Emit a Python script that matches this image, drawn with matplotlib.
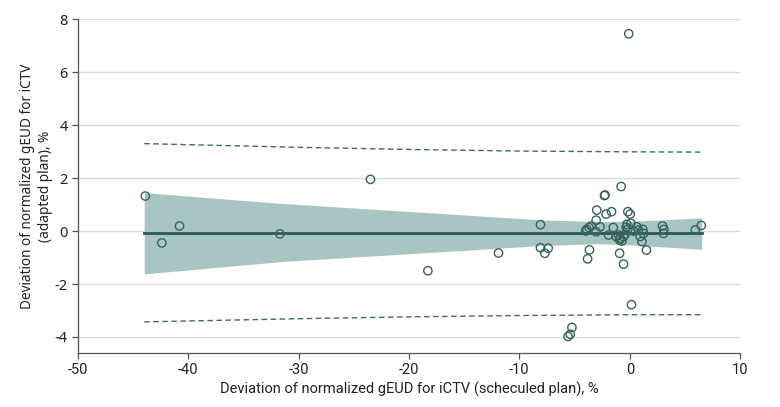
import matplotlib
matplotlib.use("Agg")
import matplotlib.pyplot as plt
import numpy as np

plt.rcParams["axes.unicode_minus"] = False

# --- data
sched = [-0.1, -43.9, -40.8, -42.4, -31.7, -23.5, -18.3, -11.9, -8.1, -8.1,
         -7.4, -7.7, -5.6, -5.4, -5.25, 0.15, -0.79, -2.3, -2.25, -3.0,
         -2.15, -1.66, -0.18, 0.03, -3.05, -3.5, -3.7, -3.9, -4.0, -2.7,
         -3.05, -1.5, -0.27, -0.33, -0.2, 0.09, 0.63, 0.79, 0.33, 1.18,
         1.24, 0.94, 1.09, -1.93, -1.24, -1.03, -0.88, -0.73, -0.93, -0.57,
         -0.42, 1.5, -3.66, -3.83, -0.93, -0.57, 2.96, 3.08, 3.05, 5.92, 6.47]
adapted = [7.45, 1.32, 0.19, -0.45, -0.11, 1.95, -1.5, -0.83, 0.24, -0.63,
           -0.65, -0.84, -3.98, -3.9, -3.64, -2.78, 1.68, 1.34, 1.36, 0.79,
           0.64, 0.73, 0.73, 0.64, 0.41, 0.19, 0.13, 0.06, 0.0, 0.16,
           -0.03, 0.13, 0.25, 0.14, 0.06, 0.29, 0.16, 0.04, 0.0, 0.06,
           -0.09, -0.21, -0.4, -0.15, -0.21, -0.15, -0.27, -0.38, -0.34, -0.21,
           -0.12, -0.72, -0.71, -1.05, -0.84, -1.25, 0.19, 0.06, -0.09, 0.04, 0.21]

# fitted line and bands
fit_x = [-44, 6.5]
fit_y = [-0.08, -0.08]
band_x = [-44, -31.5, -17, -8, -3, 0, 3, 6.5]
band_hi = [1.45, 1.04, 0.66, 0.42, 0.36, 0.37, 0.42, 0.5]
band_lo = [-1.62, -1.15, -0.78, -0.55, -0.48, -0.52, -0.6, -0.69]
pred_x = [-44, -30, -20, -10, 0, 6.5]
pred_hi = [3.3, 3.16, 3.08, 3.02, 2.99, 2.98]
pred_lo = [-3.43, -3.31, -3.24, -3.19, -3.16, -3.16]

dark = "#2b5a56"
fill = "#a9c5c3"

fig = plt.figure(figsize=(7.8, 4.07), dpi=100)
ax = fig.add_axes([0.1, 0.133, 0.849, 0.82])

ax.fill_between(band_x, band_lo, band_hi, color=fill, lw=0, zorder=1)
ax.plot(fit_x, fit_y, color=dark, lw=2, zorder=2)
ax.plot(pred_x, pred_hi, color="#3c6d68", lw=1, ls=(0, (4, 2.5)), zorder=2)
ax.plot(pred_x, pred_lo, color="#3c6d68", lw=1, ls=(0, (4, 2.5)), zorder=2)
ax.scatter(sched, adapted, s=36, facecolors="none", edgecolors="#35635f",
           linewidths=1.0, zorder=3)

ax.set_xlim(-50, 10)
ax.set_ylim(-4.6, 8)
ax.set_xticks(np.arange(-50, 11, 10))
ax.set_yticks(np.arange(-4, 9, 2))
ax.yaxis.grid(True, color="#dcdcdc", lw=1)
ax.set_axisbelow(True)
for s in ["top", "right"]:
    ax.spines[s].set_visible(False)
for s in ["left", "bottom"]:
    ax.spines[s].set_color("#555555")
    ax.spines[s].set_linewidth(0.9)
ax.tick_params(colors="#555555", labelcolor="#222222", length=4, width=0.9)

narrow = ["Liberation Sans Narrow", "Roboto", "DejaVu Sans"]
sans = ["Noto Sans", "DejaVu Sans"]
for lab in ax.get_xticklabels():
    lab.set_family(narrow)
    lab.set_fontsize(10.5)
for lab in ax.get_yticklabels():
    lab.set_family(sans)
    lab.set_fontsize(10.5)

ax.set_xlabel("Deviation of normalized gEUD for iCTV (scheculed plan), %",
              family=narrow, fontsize=10.5, color="#222222", labelpad=3)
ax.set_ylabel("Deviation of normalized gEUD for iCTV\n(adapted plan), %",
              family=sans, fontsize=9.8, color="#222222",
              labelpad=1, linespacing=1.25)

fig.savefig("out.png", dpi=100)
